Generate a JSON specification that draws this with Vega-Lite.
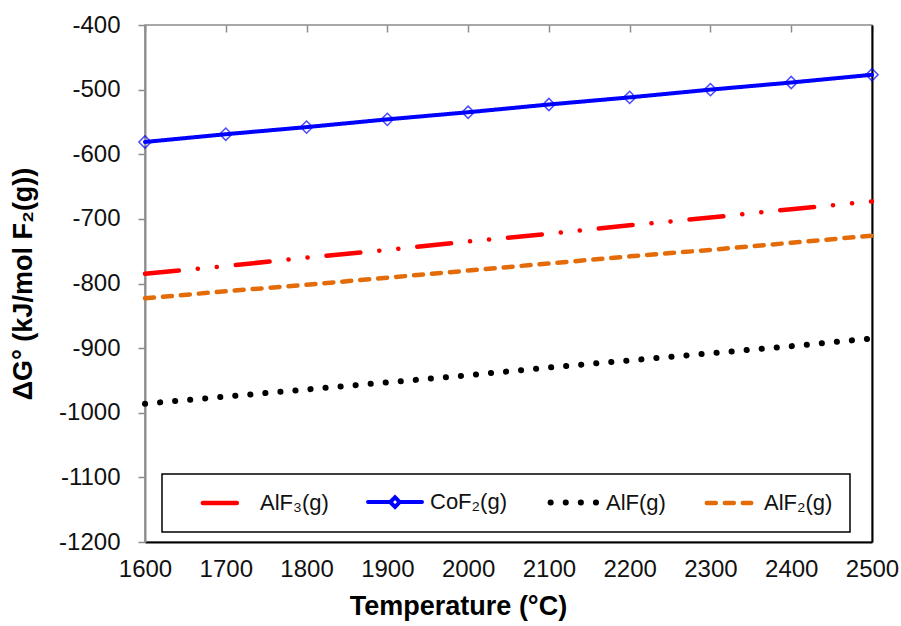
{
  "$schema": "https://vega.github.io/schema/vega-lite/v6.json",
  "width": 727,
  "height": 517,
  "autosize": {"type": "none"},
  "padding": {"left": 145, "top": 25, "right": 29, "bottom": 84},
  "config": {
    "font": "Liberation Sans",
    "view": {"stroke": "#8c8c8c", "strokeWidth": 1.5}
  },
  "data": {
    "values": [
      {"T": 1600, "G": -785, "s": "AlF₃(g)"},
      {"T": 1700, "G": -773, "s": "AlF₃(g)"},
      {"T": 1800, "G": -760, "s": "AlF₃(g)"},
      {"T": 1900, "G": -748, "s": "AlF₃(g)"},
      {"T": 2000, "G": -735, "s": "AlF₃(g)"},
      {"T": 2100, "G": -723, "s": "AlF₃(g)"},
      {"T": 2200, "G": -710, "s": "AlF₃(g)"},
      {"T": 2300, "G": -698, "s": "AlF₃(g)"},
      {"T": 2400, "G": -685, "s": "AlF₃(g)"},
      {"T": 2500, "G": -673, "s": "AlF₃(g)"},
      {"T": 1600, "G": -581, "s": "CoF₂(g)"},
      {"T": 1700, "G": -569, "s": "CoF₂(g)"},
      {"T": 1800, "G": -558, "s": "CoF₂(g)"},
      {"T": 1900, "G": -546, "s": "CoF₂(g)"},
      {"T": 2000, "G": -535, "s": "CoF₂(g)"},
      {"T": 2100, "G": -523, "s": "CoF₂(g)"},
      {"T": 2200, "G": -512, "s": "CoF₂(g)"},
      {"T": 2300, "G": -500, "s": "CoF₂(g)"},
      {"T": 2400, "G": -489, "s": "CoF₂(g)"},
      {"T": 2500, "G": -477, "s": "CoF₂(g)"},
      {"T": 1600, "G": -986, "s": "AlF(g)"},
      {"T": 1700, "G": -975, "s": "AlF(g)"},
      {"T": 1800, "G": -964, "s": "AlF(g)"},
      {"T": 1900, "G": -953, "s": "AlF(g)"},
      {"T": 2000, "G": -942, "s": "AlF(g)"},
      {"T": 2100, "G": -930, "s": "AlF(g)"},
      {"T": 2200, "G": -919, "s": "AlF(g)"},
      {"T": 2300, "G": -908, "s": "AlF(g)"},
      {"T": 2400, "G": -897, "s": "AlF(g)"},
      {"T": 2500, "G": -885, "s": "AlF(g)"},
      {"T": 1600, "G": -823, "s": "AlF₂(g)"},
      {"T": 1700, "G": -812, "s": "AlF₂(g)"},
      {"T": 1800, "G": -802, "s": "AlF₂(g)"},
      {"T": 1900, "G": -791, "s": "AlF₂(g)"},
      {"T": 2000, "G": -780, "s": "AlF₂(g)"},
      {"T": 2100, "G": -769, "s": "AlF₂(g)"},
      {"T": 2200, "G": -758, "s": "AlF₂(g)"},
      {"T": 2300, "G": -748, "s": "AlF₂(g)"},
      {"T": 2400, "G": -737, "s": "AlF₂(g)"},
      {"T": 2500, "G": -726, "s": "AlF₂(g)"}
    ]
  },
  "layer": [
    {
      "mark": {"type": "line", "strokeCap": "round"},
      "encoding": {
        "x": {
          "field": "T", "type": "quantitative",
          "scale": {"domain": [1600, 2500], "nice": false, "zero": false},
          "axis": {
            "values": [1600, 1700, 1800, 1900, 2000, 2100, 2200, 2300, 2400, 2500],
            "format": "d",
            "title": "Temperature (°C)",
            "titleFontSize": 27, "titleFontWeight": "bold", "titleColor": "#000", "titlePadding": 12,
            "titleX": 313, "titleAlign": "center",
            "labelFontSize": 24, "labelColor": "#111", "labelPadding": 15,
            "ticks": false,
            "domainColor": "#000", "domainWidth": 2,
            "grid": false, "labelFlush": false
          }
        },
        "y": {
          "field": "G", "type": "quantitative",
          "scale": {"domain": [-1200, -400], "nice": false, "zero": false},
          "axis": {
            "values": [-1200, -1100, -1000, -900, -800, -700, -600, -500, -400],
            "labelExpr": "'' + datum.value",
            "title": "ΔG° (kJ/mol F₂(g))",
            "titleFontSize": 27, "titleFontWeight": "bold", "titleColor": "#000", "titlePadding": 21,
            "labelFontSize": 24, "labelColor": "#111", "labelPadding": 18,
            "tickSize": 7, "tickColor": "#8c8c8c", "tickWidth": 1.5,
            "domainColor": "#8c8c8c", "domainWidth": 2,
            "grid": false
          }
        },
        "color": {
          "field": "s", "type": "nominal",
          "scale": {
            "domain": ["AlF₃(g)", "CoF₂(g)", "AlF(g)", "AlF₂(g)"],
            "range": ["#ff0000", "#0000ff", "#000000", "#e36c09"]
          },
          "legend": {
            "title": " ",
            "titleOrient": "left",
            "titleFontSize": 1,
            "titlePadding": 35,
            "orient": "none",
            "legendX": 17,
            "legendY": 449,
            "direction": "horizontal",
            "columns": 4,
            "gridAlign": "each",
            "columnPadding": 31,
            "strokeColor": "#000",
            "padding": 17,
            "symbolType": "stroke",
            "symbolSize": 576,
            "symbolStrokeWidth": 4.5,
            "labelFontSize": 22,
            "labelColor": "#111",
            "labelOffset": 24,
            "labelLimit": 200,
            "encode": {
              "legend": {"update": {"strokeWidth": {"value": 1.5}}},
              "symbols": {
                "update": {
                  "strokeCap": {"value": "round"},
                  "strokeWidth": {"signal": "datum.value === 'CoF₂(g)' ? 4 : datum.value === 'AlF(g)' ? 6 : 4.5"},
                  "shape": {"signal": "datum.value === 'CoF₂(g)' ? 'M-2.25,0H-0.4M0.4,0H2.25M0,-0.4L0.4,0L0,0.4L-0.4,0Z' : datum.value === 'AlF(g)' ? 'M-1.7,0H2.3' : 'M-1.85,0H1.85'"}
                }
              }
            }
          }
        },
        "strokeDash": {
          "field": "s", "type": "nominal",
          "scale": {
            "domain": ["AlF₃(g)", "CoF₂(g)", "AlF(g)", "AlF₂(g)"],
            "range": [[34, 19, 0.1, 19, 0.1, 19], [1, 0], [0.1, 15], [9, 9]]
          },
          "legend": null
        },
        "strokeWidth": {
          "condition": [
            {"test": "datum.s === 'AlF(g)'", "value": 6},
            {"test": "datum.s === 'CoF₂(g)'", "value": 4}
          ],
          "value": 4.5
        }
      }
    },
    {
      "transform": [{"filter": "datum.s === 'CoF₂(g)'"}],
      "mark": {"type": "point", "shape": "diamond", "filled": false, "size": 150, "strokeWidth": 1.5, "color": "#0000ff"},
      "encoding": {
        "x": {
          "field": "T", "type": "quantitative",
          "axis": {
            "orient": "top",
            "values": [1600, 1700, 1800, 1900, 2000, 2100, 2200, 2300, 2400, 2500],
            "labels": false, "title": null, "domain": false,
            "tickSize": -7, "tickColor": "#8c8c8c", "tickWidth": 1.5, "grid": false
          }
        },
        "y": {
          "field": "G", "type": "quantitative",
          "axis": {
            "orient": "right", "labels": false, "ticks": false, "title": null,
            "domainColor": "#000", "domainWidth": 2, "grid": false
          }
        }
      }
    }
  ],
  "resolve": {"axis": {"x": "independent", "y": "independent"}}
}
